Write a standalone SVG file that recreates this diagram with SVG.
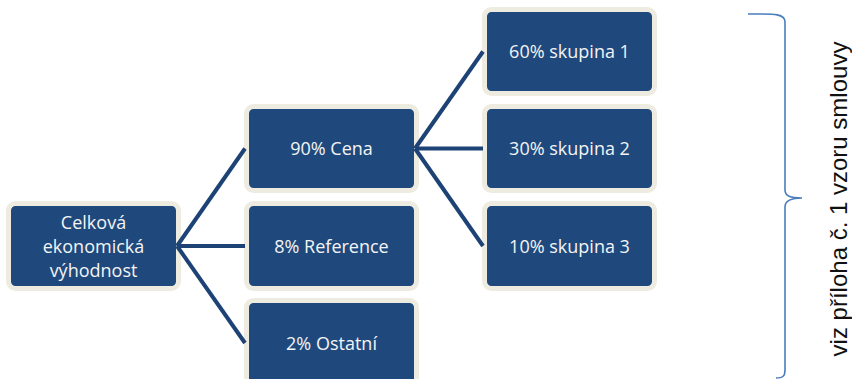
<svg xmlns="http://www.w3.org/2000/svg" width="852" height="379" viewBox="0 0 852 379">
  <style>
    .box rect { fill: #1F497D; stroke: #EEECE1; stroke-width: 5; }
    .box text { fill: #F4F4F4; font-family: "Open Sans", "Noto Sans", sans-serif; font-size: 18px; text-anchor: middle; }
    .conn line { stroke: #1D4275; stroke-width: 4; stroke-linecap: butt; }
    .brace { fill: none; stroke: #4A7EBB; stroke-width: 1.6; }
    .note { font-family: "Liberation Sans", Arial, sans-serif; font-size: 24px; fill: #111; text-anchor: middle; }
  </style>
  <rect width="852" height="379" fill="#FFFFFF"/>
  <g id="n-celkova" class="box">
    <rect x="8.5" y="203.5" width="170" height="85" rx="7"/>
    <text x="93.5" y="228.5">Celková</text>
    <text x="93.5" y="252.5">ekonomická</text>
    <text x="93.5" y="276.5">výhodnost</text>
  </g>
  <g id="n-cena" class="box">
    <rect x="246.5" y="106.5" width="170" height="84" rx="7"/>
    <text x="331.5" y="155">90% Cena</text>
  </g>
  <g id="n-reference" class="box">
    <rect x="246.5" y="203.5" width="170" height="85" rx="7"/>
    <text x="331.5" y="252.5">8% Reference</text>
  </g>
  <g id="n-ostatni" class="box">
    <rect x="246.5" y="300.5" width="170" height="85" rx="7"/>
    <text x="331.5" y="349.5">2% Ostatní</text>
  </g>
  <g id="n-sk1" class="box">
    <rect x="484.5" y="9.5" width="170" height="84" rx="7"/>
    <text x="569.5" y="58">60% skupina 1</text>
  </g>
  <g id="n-sk2" class="box">
    <rect x="484.5" y="106.5" width="170" height="84" rx="7"/>
    <text x="569.5" y="155">30% skupina 2</text>
  </g>
  <g id="n-sk3" class="box">
    <rect x="484.5" y="203.5" width="170" height="85" rx="7"/>
    <text x="569.5" y="252.5">10% skupina 3</text>
  </g>
  <g id="connectors" class="conn">
    <line x1="177" y1="246" x2="245" y2="148.5"/>
    <line x1="177" y1="246" x2="245" y2="246"/>
    <line x1="177" y1="246" x2="245" y2="343"/>
    <line x1="415" y1="148.5" x2="483" y2="51.5"/>
    <line x1="415" y1="148.5" x2="483" y2="148.5"/>
    <line x1="415" y1="148.5" x2="483" y2="246"/>
  </g>
  <g id="brace-note">
    <path class="brace" d="M748,14 C772,14 785,13 785,22 L785,190 C785,196 790,198 802,198 C790,198 785,201 785,207 L785,370 C785,376 783,378 776,378"/>
    <text class="note" transform="translate(847,199) rotate(-90)">viz příloha č. 1 vzoru smlouvy</text>
  </g>
</svg>
